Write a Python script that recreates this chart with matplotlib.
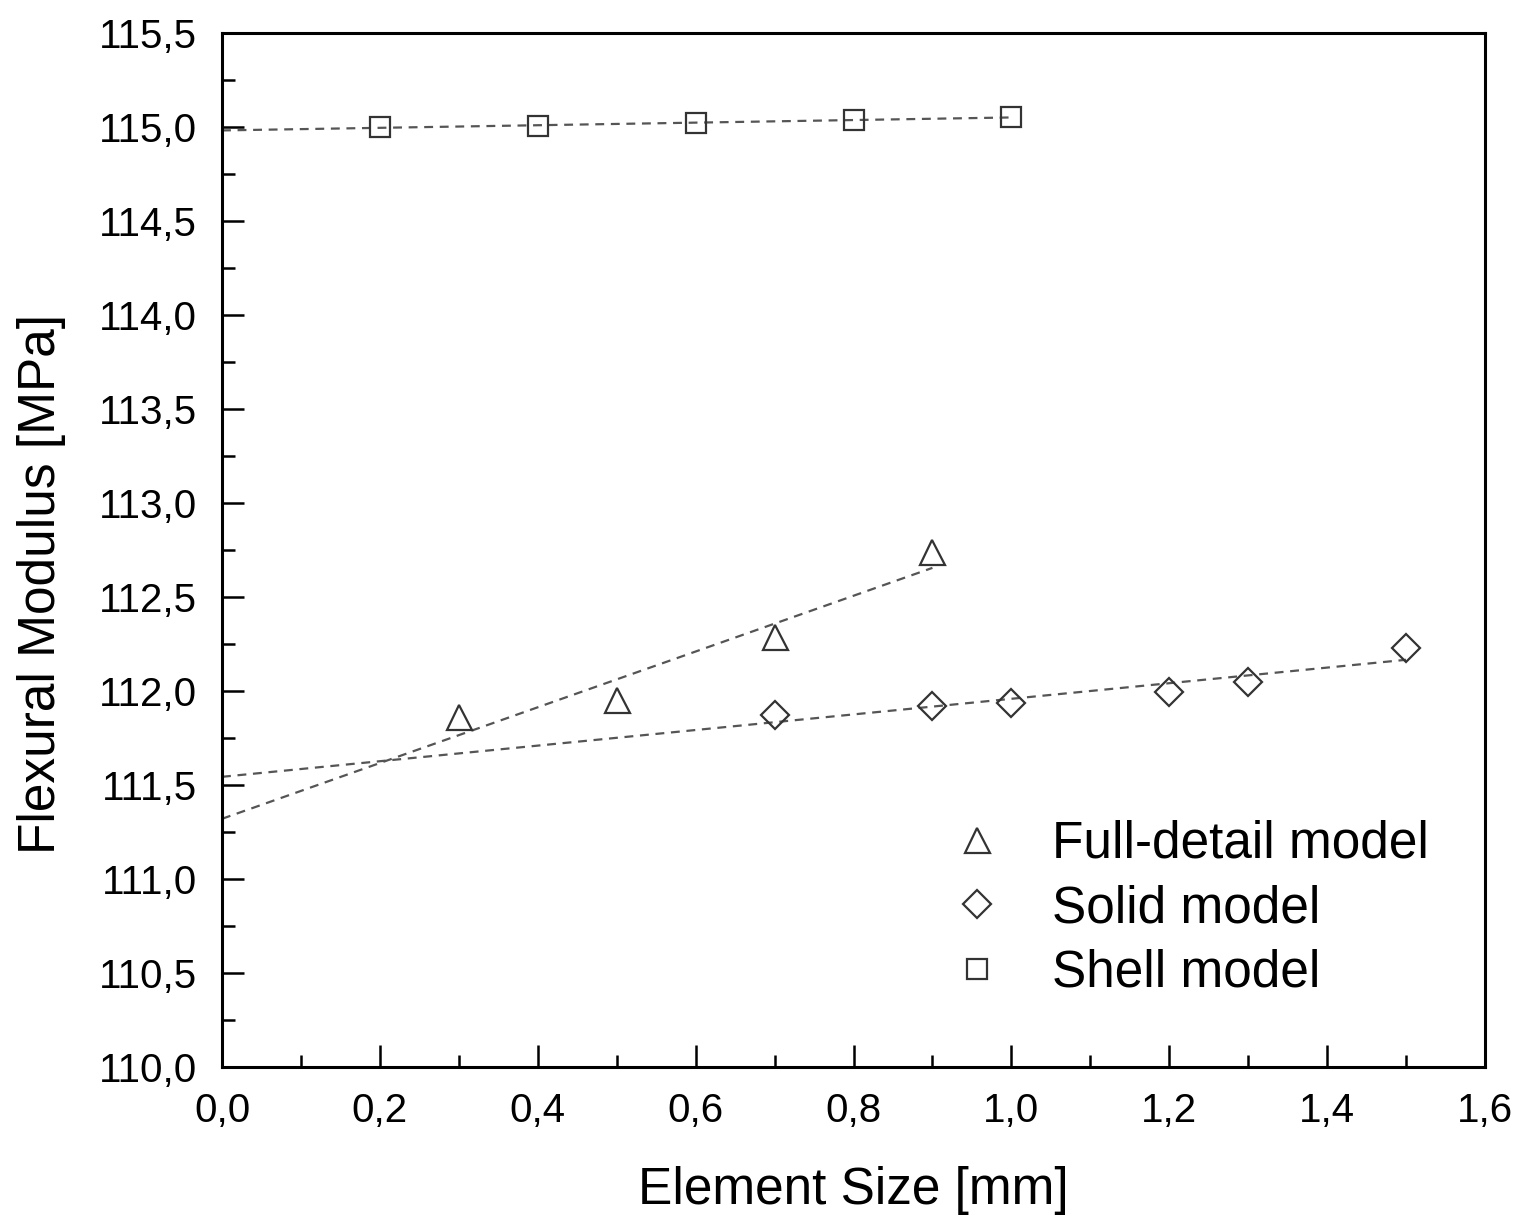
import numpy as np
import matplotlib
matplotlib.use("Agg")
import matplotlib.pyplot as plt
from matplotlib.ticker import MultipleLocator, FuncFormatter

plt.rcParams['font.family'] = ['Liberation Sans', 'DejaVu Sans']

# Data
full_x = [0.3, 0.5, 0.7, 0.9]
full_y = [111.862, 111.952, 112.287, 112.739]

solid_x = [0.7, 0.9, 1.0, 1.2, 1.3, 1.5]
solid_y = [111.872, 111.92, 111.936, 111.995, 112.048, 112.229]

shell_x = [0.2, 0.4, 0.6, 0.8, 1.0]
shell_y = [115.0, 115.005, 115.021, 115.037, 115.053]

labels = ["Full-detail model", "Solid model", "Shell model"]

fig = plt.figure(figsize=(15.22, 12.19), dpi=100)
ax = fig.add_axes([222/1522, 1 - 1067/1219, (1485-222)/1522, (1067-33)/1219])

line_col = '#555555'
mk_col = '#333333'
ls = (0, (4, 3))

def fit_line(xs, ys, xmax):
    k, b = np.polyfit(xs, ys, 1)
    xx = np.array([0.0, xmax])
    ax.plot(xx, k*xx + b, color=line_col, lw=1.6, linestyle=ls, zorder=2)

fit_line(full_x, full_y, max(full_x))
fit_line(solid_x, solid_y, max(solid_x))
fit_line(shell_x, shell_y, max(shell_x))

h1, = ax.plot(full_x, full_y, linestyle='none', marker='^', ms=18, mfc='none',
              mec=mk_col, mew=1.6, label=labels[0], zorder=3)
h2, = ax.plot(solid_x, solid_y, linestyle='none', marker='D', ms=14, mfc='none',
              mec=mk_col, mew=1.6, label=labels[1], zorder=3)
h3, = ax.plot(shell_x, shell_y, linestyle='none', marker='s', ms=14, mfc='none',
              mec=mk_col, mew=1.6, label=labels[2], zorder=3)

ax.set_xlim(0, 1.6)
ax.set_ylim(110.0, 115.5)
ax.xaxis.set_major_locator(MultipleLocator(0.2))
ax.xaxis.set_minor_locator(MultipleLocator(0.1))
ax.yaxis.set_major_locator(MultipleLocator(0.5))
ax.yaxis.set_minor_locator(MultipleLocator(0.25))
ax.xaxis.set_major_formatter(FuncFormatter(lambda v, p: f"{v:.1f}".replace('.', ',')))
ax.yaxis.set_major_formatter(FuncFormatter(lambda v, p: f"{v:.1f}".replace('.', ',')))

for s in ax.spines.values():
    s.set_linewidth(2.2)
ax.tick_params(which='both', direction='in', top=False, right=False, width=1.8,
               labelsize=29, pad=18)
ax.tick_params(which='major', length=16)
ax.tick_params(which='minor', length=9)

ax.set_xlabel("Element Size [mm]", fontsize=37, labelpad=26)
ax.set_ylabel("Flexural Modulus [MPa]", fontsize=37)
ax.yaxis.set_label_coords(-0.1235, 0.467)

leg = ax.legend(handles=[h1, h2, h3], loc='upper left',
                bbox_to_anchor=(951.5/1522, 1 - 820/1219), bbox_transform=fig.transFigure,
                frameon=False, fontsize=37, numpoints=1, handlelength=1.0,
                handletextpad=0.95, borderpad=0, borderaxespad=0, labelspacing=0.3)

fig.savefig("out.png", dpi=100)
